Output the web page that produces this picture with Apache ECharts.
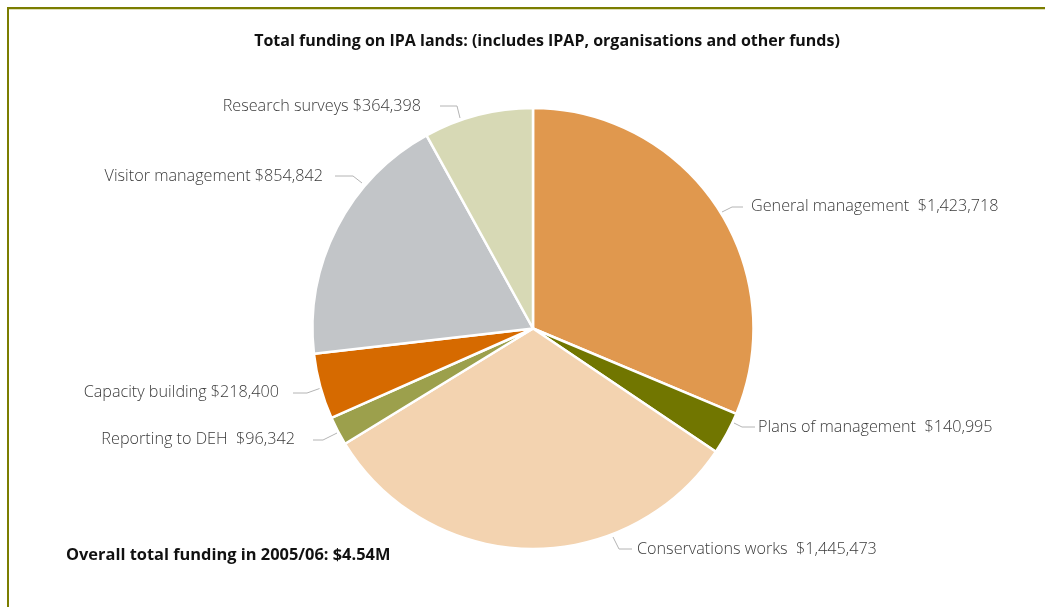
<!DOCTYPE html>
<html>
<head>
<meta charset="utf-8">
<script src="https://cdn.jsdelivr.net/npm/echarts@6/dist/echarts.min.js"></script>
<style>
html,body{margin:0;padding:0;background:#fff;}
#frame{position:absolute;left:0;top:0;width:1045px;height:607px;}
#top{position:absolute;left:7px;top:7px;width:1038px;height:2px;background:#7b7d00;}
#top2{position:absolute;left:9px;top:9px;width:1036px;height:1px;background:#dfe0b8;}
#left{position:absolute;left:7px;top:7px;width:2px;height:600px;background:#7b7d00;}
#chart{position:absolute;left:0;top:0;width:1045px;height:607px;}
</style>
</head>
<body>
<div id="frame"><div id="top"></div><div id="top2"></div><div id="left"></div></div>
<div id="chart"></div>
<script>
const categories = ['General management','Plans of management','Conservations works','Reporting to DEH','Capacity building','Visitor management','Research surveys'];
const values = [1423718, 140995, 1445473, 96342, 218400, 854842, 364398];
const colors = ['#e0984e','#717600','#f3d3b0','#9ca04c','#d66a00','#c2c5c8','#d7d9b5'];
const gaps = ['  ','  ','  ','  ',' ',' ',' '];
const titleText = 'Total funding on IPA lands: (includes IPAP, organisations and other funds)';
const footText = 'Overall total funding in 2005/06: $4.54M';

// label placement (layout only): line start, elbow, line end, text anchor
const labelSpots = [
  {start:[722,212], elbow:[732,207], end:[743,207], text:[751,206], align:'left'},
  {start:[734,423], elbow:[742,427], end:[755,427], text:[758,427], align:'left'},
  {start:[613,537], elbow:[619,549], end:[632,549], text:[637,549], align:'left'},
  {start:[337,433], elbow:[323,440], end:[313,440], text:[295,439], align:'right'},
  {start:[321,388], elbow:[307,393], end:[293,393], text:[279,392], align:'right'},
  {start:[362,183], elbow:[353,176], end:[335,176], text:[323,176], align:'right'},
  {start:[460,118], elbow:[457,106], end:[440,106], text:[421,106], align:'right'}
];

const fmt = v => '$' + v.toString().replace(/\B(?=(\d{3})+(?!\d))/g, ',');
const chart = echarts.init(document.getElementById('chart'), null, {renderer:'canvas'});
chart.setOption({
  backgroundColor: 'transparent',
  animation: false,
  title: [
    {text: titleText, left: 547, top: 33, textAlign: 'center', padding: 0,
     textStyle:{fontFamily:'Open Sans', fontWeight:'bold', fontSize:16, color:'#111'}},
    {text: footText, left: 66, top: 547, padding: 0,
     textStyle:{fontFamily:'Open Sans', fontWeight:'bold', fontSize:16.4, color:'#111'}}
  ],
  series: [{
    type: 'pie',
    center: [533, 328.5],
    radius: [0, 220.5],
    startAngle: 90,
    clockwise: true,
    data: categories.map((c,i)=>({name:c, value:values[i], itemStyle:{color:colors[i]}})),
    itemStyle: {borderColor:'#fff', borderWidth:2.5},
    label: {
      show: true,
      formatter: p => p.name + gaps[p.dataIndex] + fmt(p.value),
      fontFamily: 'Open Sans', fontWeight: 300, fontSize: 16.2, color: '#3a3a3a'
    },
    labelLine: {show:true, length: 10, length2: 15, lineStyle:{color:'#b4b4b4', width:1}},
    labelLayout: function (params) {
      const s = labelSpots[params.dataIndex];
      return {
        x: s.text[0], y: s.text[1], align: s.align, verticalAlign: 'middle',
        labelLinePoints: [s.start, s.elbow, s.end]
      };
    },
    emphasis: {disabled:true}
  }]
});
</script>
</body>
</html>
